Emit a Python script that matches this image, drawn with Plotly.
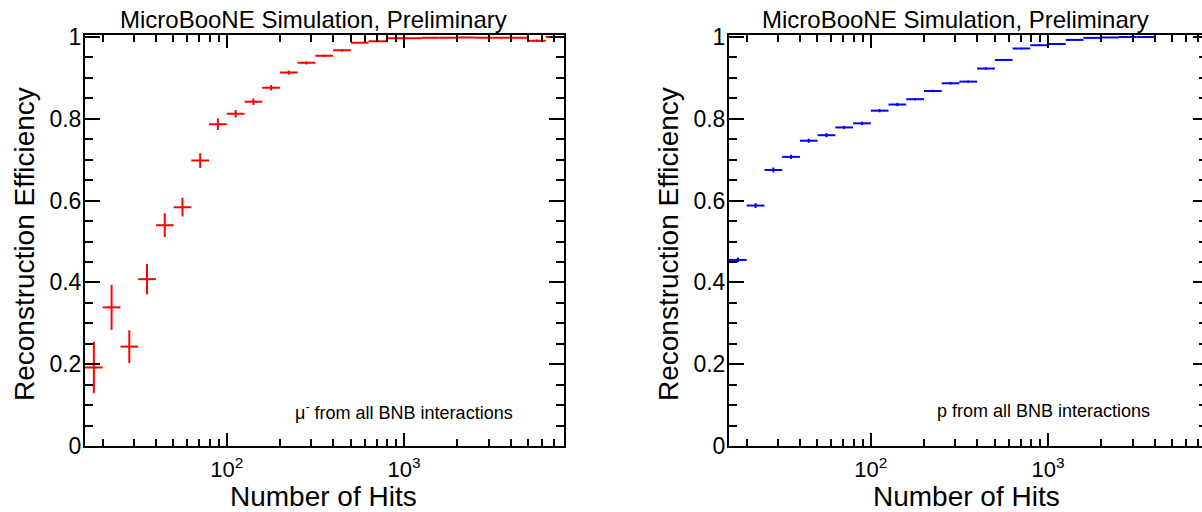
import plotly.graph_objects as go

# ---------------- data ----------------
bin_edges = [15.85, 19.95, 25.12, 31.62, 39.81, 50.12, 63.10, 79.43, 100.0,
             125.9, 158.5, 199.5, 251.2, 316.2, 398.1, 501.2, 631.0, 794.3,
             1000.0, 1259.0, 1585.0, 1995.0, 2512.0, 3162.0, 3981.0, 5012.0,
             6310.0, 7943.0]

mu_eff = [0.192, 0.339, 0.243, 0.408, 0.540, 0.584, 0.698, 0.787, 0.8125,
          0.842, 0.876, 0.913, 0.937, 0.954, 0.9675, 0.986, 0.990, 0.997,
          0.997, 0.998, 0.998, 0.999, 0.998, 0.998, 0.998, 0.991, 1.000]
mu_err = [0.063, 0.055, 0.040, 0.037, 0.029, 0.023, 0.018, 0.014, 0.009,
          0.008, 0.007, 0.005, 0.004, 0.003, 0.003, 0.002, 0.002, 0.001,
          0.001, 0.001, 0.001, 0.001, 0.001, 0.001, 0.001, 0.003, 0.000]

p_eff = [0.455, 0.588, 0.675, 0.707, 0.7465, 0.760, 0.779, 0.789, 0.820,
         0.835, 0.848, 0.868, 0.887, 0.891, 0.923, 0.944, 0.972, 0.980,
         0.983, 0.993, 0.998, 0.999, 1.000, 1.000]
p_err = [0.006, 0.006, 0.006, 0.005, 0.005, 0.005, 0.004, 0.004, 0.004,
         0.004, 0.003, 0.003, 0.003, 0.003, 0.003, 0.002, 0.002, 0.002,
         0.002, 0.001, 0.001, 0.001, 0.000, 0.000]

x_major_vals = [100, 1000]
x_major_text = ["10<sup>2</sup>", "10<sup>3</sup>"]
x_minor_vals = [20, 30, 40, 50, 60, 70, 80, 90,
                200, 300, 400, 500, 600, 700, 800, 900,
                2000, 3000, 4000, 5000, 6000, 7000]
y_major_vals = [0, 0.2, 0.4, 0.6, 0.8, 1.0]
y_major_text = ["0", "0.2", "0.4", "0.6", "0.8", "1"]
y_minor_vals = [0.05, 0.1, 0.15, 0.25, 0.3, 0.35, 0.45, 0.5, 0.55,
                0.65, 0.7, 0.75, 0.85, 0.9, 0.95]

title_text = "MicroBooNE Simulation, Preliminary"
ytitle_text = "Reconstruction Efficiency"
xtitle_text = "Number of Hits"
mu_label = "\u03bc<sup>-</sup> from all BNB interactions"
p_label = "p from all BNB interactions"

FONT = "Liberation Sans, Arial, Helvetica, sans-serif"
W, H = 1202, 512


def hist_points(eff, err):
    lo = bin_edges[:len(eff)]
    hi = bin_edges[1:len(eff) + 1]
    c = [(a * b) ** 0.5 for a, b in zip(lo, hi)]
    ex_plus = [b - x for b, x in zip(hi, c)]
    ex_minus = [x - a for a, x in zip(lo, c)]
    return c, ex_plus, ex_minus


fig = go.Figure()

for eff, err, color, xa, ya in [(mu_eff, mu_err, "#ff0000", "x", "y"),
                                (p_eff, p_err, "#0000ff", "x2", "y2")]:
    c, ep, em = hist_points(eff, err)
    fig.add_trace(go.Scatter(
        x=c, y=eff, mode="markers", xaxis=xa, yaxis=ya,
        marker=dict(size=1, color=color, opacity=0),
        error_x=dict(type="data", symmetric=False, array=ep, arrayminus=em,
                     color=color, thickness=2, width=0),
        error_y=dict(type="data", array=err, color=color, thickness=2, width=0),
        showlegend=False, hoverinfo="skip"))

# dummy trace to activate the right-side tick axis of the right panel
fig.add_trace(go.Scatter(x=[100], y=[-1], xaxis="x2", yaxis="y3",
                         mode="markers", marker=dict(opacity=0),
                         showlegend=False, hoverinfo="skip"))

ydom = [66 / H, 477 / H]
yrange = [0, 1.005]

xcommon = dict(type="log", showgrid=False, zeroline=False, automargin=False,
               showline=True, linecolor="black", linewidth=2,
               mirror="ticks", ticks="inside", ticklen=13, tickwidth=1.5,
               tickcolor="black", tickmode="array", tickvals=x_major_vals,
               ticktext=x_major_text, ticklabelstandoff=3,
               tickfont=dict(family=FONT, size=22, color="black"),
               minor=dict(ticks="inside", ticklen=7, tickwidth=1.5,
                          tickcolor="black", tickmode="array",
                          tickvals=x_minor_vals, showgrid=False))
ycommon = dict(range=yrange, domain=ydom, showgrid=False, zeroline=False,
               automargin=False,
               showline=True, linecolor="black", linewidth=2,
               ticks="inside", ticklen=15, tickwidth=1.5, tickcolor="black",
               tickmode="array", tickvals=y_major_vals, ticktext=y_major_text,
               ticklabelstandoff=-3,
               tickfont=dict(family=FONT, size=23, color="black"),
               minor=dict(ticks="inside", ticklen=8, tickwidth=1.5,
                          tickcolor="black", tickmode="array",
                          tickvals=y_minor_vals, showgrid=False))

L0, L1 = 85, 563.5
R0 = 729
dec = (L1 - L0) / 2.7

fig.update_layout(
    width=W, height=H,
    margin=dict(l=0, r=0, t=0, b=0, pad=0, autoexpand=False),
    paper_bgcolor="white", plot_bgcolor="white",
    xaxis=dict(domain=[L0 / W, L1 / W], range=[1.2, 3.9], anchor="y", **xcommon),
    yaxis=dict(anchor="x", mirror="ticks", **ycommon),
    xaxis2=dict(domain=[R0 / W, 1.0], range=[1.2, 1.2 + (W - R0) / dec],
                anchor="y2", **xcommon),
    yaxis2=dict(anchor="x2", mirror=False, **ycommon),
)
y3 = dict(ycommon)
y3.update(showline=False, showticklabels=False, ticklen=9,
          minor=dict(ticks="inside", ticklen=3, tickwidth=1.5,
                     tickcolor="black", tickmode="array",
                     tickvals=y_minor_vals, showgrid=False))
fig.update_layout(yaxis3=dict(overlaying="y2", side="right", anchor="x2", **y3))

ann = []
def px(x):
    return x / W
def py(y):
    return 1 - y / H

for cx in [313.5, 955.5]:
    ann.append(dict(text=title_text, x=px(cx), y=py(19), xref="paper", yref="paper",
                    xanchor="center", yanchor="middle", showarrow=False,
                    font=dict(family=FONT, size=24, color="black")))
for cx in [24, 668]:
    ann.append(dict(text=ytitle_text, x=px(cx), y=py(244), xref="paper", yref="paper",
                    xanchor="center", yanchor="middle", showarrow=False, textangle=-90,
                    font=dict(family=FONT, size=28, color="black")))
for cx in [323, 967]:
    ann.append(dict(text=xtitle_text, x=px(cx), y=py(496), xref="paper", yref="paper",
                    xanchor="center", yanchor="middle", showarrow=False,
                    font=dict(family=FONT, size=28, color="black")))
ann.append(dict(text=mu_label, x=px(515), y=py(411), xref="paper", yref="paper",
                xanchor="right", yanchor="middle", showarrow=False,
                font=dict(family=FONT, size=18, color="black")))
ann.append(dict(text=p_label, x=px(1152), y=py(411), xref="paper", yref="paper",
                xanchor="right", yanchor="middle", showarrow=False,
                font=dict(family=FONT, size=18, color="black")))
fig.update_layout(annotations=ann)

fig.write_html("out.html")
